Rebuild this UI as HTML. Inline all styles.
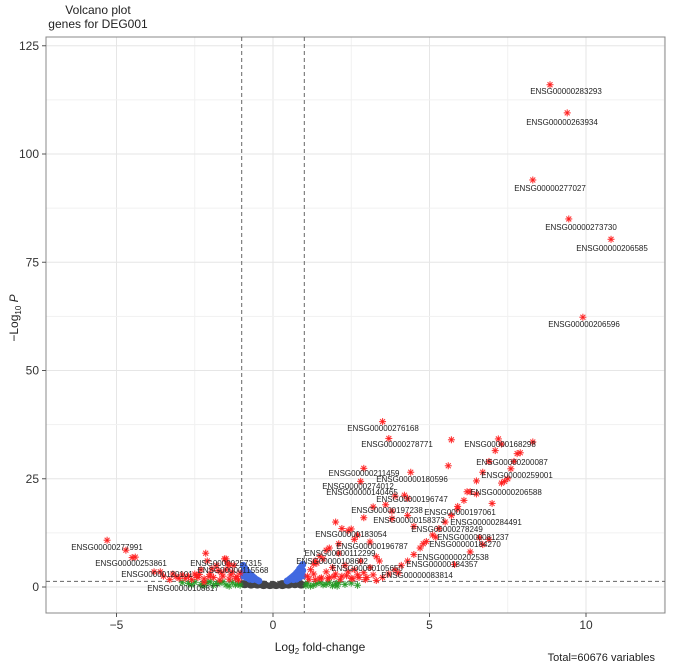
<!DOCTYPE html>
<html><head><meta charset="utf-8"><style>
body{margin:0;background:#fff;font-family:"Liberation Sans",sans-serif}
svg text{font-family:"Liberation Sans",sans-serif}
</style></head><body>
<svg id="chart" width="677" height="666"></svg>
<script>
// ---- data ----
const xTicks=[-5,0,5,10];
const yTicks=[0,25,50,75,100,125];
const labeledGenes=["ENSG00000283293","ENSG00000263934","ENSG00000277027","ENSG00000273730","ENSG00000206585","ENSG00000206596","ENSG00000276168","ENSG00000278771","ENSG00000211459","ENSG00000180596","ENSG00000274012","ENSG00000140465","ENSG00000196747","ENSG00000197238","ENSG00000197061","ENSG00000158373","ENSG00000284491","ENSG00000278249","ENSG00000183054","ENSG00000081237","ENSG00000184270","ENSG00000196787","ENSG00000112299","ENSG00000202538","ENSG00000108602","ENSG00000184357","ENSG00000105650","ENSG00000083814","ENSG00000168298","ENSG00000200087","ENSG00000259001","ENSG00000206588","ENSG00000277991","ENSG00000253861","ENSG00000120101","ENSG00000257315","ENSG00000115568","ENSG00000108817"];
const labeledFC=[8.85,9.4,8.3,9.45,10.8,9.9,3.5,3.7,2.9,4.4,2.8,4.2,4.3,3.8,5.9,4.3,7,6.6,2.5,6.9,6.7,3.1,1.5,6.3,1.3,5.8,3.4,4.0,7.2,7.8,7.6,7.4,-5.3,-4.5,-3.6,-1.5,-1.4,-2.2];
const labeledP=[116,109.5,94,85,80.3,62.3,38.2,34.3,27.4,26.5,24.4,21.2,20.5,15.8,18.6,16.5,19.3,11.4,13.4,11,9.8,10.4,7.1,8.1,5.3,5.2,6,3.2,34.2,30.8,27.3,24.4,10.8,6.8,3.5,6.5,5,1.1];
const labelText=[[566,91],[562,122],[550,188],[581,227],[612,248],[584,324],[383,428],[397,444],[364,473],[412,479],[358,486],[362,492],[412,499],[387,510],[460,512],[409,520],[486,522],[447,529],[351,534],[473,537],[465,544],[372,546],[340,553],[453,557],[332,561],[442,564],[367,568],[417,575],[500,444],[512,462],[517,475],[506,492],[107,547],[131,563],[157,574],[226,563],[233,570],[183,588]];
const redFC=[-1.2,-1.3,-1.5,-1.6,-1.8,-2,-2.1,-2.3,-2.5,-2.7,-3,-3.2,-3.5,-1.4,-1.7,-1.9,-2.2,-2.4,-1.1,-1.25,-1.55,-2.15,-2.6,-2.9,-3.8,-4.7,-4.4,-1.35,-1.65,-1.95,-2.45,-1.05,-1.15,-1.75,-2.05,-2.35,-2.8,-3.1,-3.3,-1.45,
1.1,1.2,1.3,1.4,1.5,1.6,1.7,1.8,1.9,2,2.1,2.2,2.3,2.4,2.5,2.6,2.7,2.8,2.9,3,3.1,3.2,1.15,1.35,1.55,1.75,1.95,2.15,2.35,2.55,2.75,2.95,3.3,3.5,3.7,3.9,4.1,4.3,4.5,4.7,4.9,5.1,5.3,5.5,5.7,5.9,6.1,6.3,6.5,6.7,6.9,7.1,7.3,1.8,2.2,2.6,3.3,2.1,1.7,1.35,2.9,3.2,3.6,4.8,5.2,2.4,5.6,5.7,3.8,6.5,8.3,7.3,7.5,7.7,7.9,6.2,4.5,3.9,2.0,2.7],
redP=[2,3.5,4,2.5,5,3,6,4,3,2.5,2,3,2.5,1.8,1.6,2.2,1.9,2.2,1.6,5,6.5,7.8,1.7,2.8,3.5,8.5,6.9,2.8,3.3,4.2,2.6,3.2,2.4,3.8,2.4,2.9,2,2.4,1.7,5.5,
2.5,4,3,5.5,2,6.5,3.5,2.2,4.5,3,7.8,2.5,5,3.5,2,4,2.8,6,3.3,2.2,4.5,2.8,1.8,1.7,2.1,1.9,2.4,1.8,2.6,1.9,2.2,1.7,1.5,2.2,3,4,5,6,7.5,9,10.5,12,13.5,15,16.5,18,20,22,24.5,26.5,29,31.5,33,9,13.5,11,7,10,8.5,6,16,18.5,19,10,11.5,13,28,34,17.5,21.5,33.5,24,25,29,31,22,14,21,15,12];
const greenFC=[-2.7,-2.5,-2.3,-2.1,-1.9,-1.7,-1.5,-1.3,-1.1,-2.6,-2.2,-1.8,-1.4,-1.2,1.1,1.3,1.5,1.7,1.9,2.1,1.2,1.4,1.6,1.8,2.0,1.05,-1.05,-1.6,-2.0,2.05,2.3,2.5,2.7,-2.9],
greenP=[0.8,1.1,0.6,1.0,0.4,0.9,0.5,1.1,0.7,0.5,0.3,0.8,0.2,0.5,0.9,0.4,1.1,0.6,0.3,1.0,0.2,0.8,0.5,1.1,0.7,0.3,0.4,1.2,1.2,0.2,0.6,0.9,0.4,1.0];
const blueFC=[-0.95,-0.9,-0.85,-0.8,-0.75,-0.7,-0.65,-0.6,-0.55,-0.5,-0.45,0.45,0.5,0.55,0.6,0.65,0.7,0.75,0.8,0.85,0.9,0.95,-0.95,-0.85,-0.75,0.75,0.85,0.95,-0.9,0.9,-0.95,-0.65,0.65,0.95,-0.8,0.8],
blueP=[5,4.4,3.8,3.4,3,2.8,2.4,2.1,1.8,1.6,1.4,1.4,1.6,1.9,2.2,2.5,2.8,3.2,3.6,4.2,4.6,5.2,2.5,2.2,1.8,1.8,2.2,2.6,3.6,3.6,3.5,1.7,1.7,3.8,2.6,2.6];
const greyFC=[-0.95,-0.85,-0.75,-0.65,-0.55,-0.45,-0.35,-0.25,-0.15,-0.05,0.05,0.15,0.25,0.35,0.45,0.55,0.65,0.75,0.85,0.95,-0.9,-0.7,-0.5,-0.3,-0.1,0.1,0.3,0.5,0.7,0.9,-0.8,-0.6,-0.4,-0.2,0,0.2,0.4,0.6,0.8,-0.3,0,0.3],
greyP=[1.0,0.8,0.6,1.1,0.5,0.9,0.3,0.7,0.4,0.2,0.6,0.3,0.8,0.5,1.0,0.4,0.9,0.6,1.1,0.7,0.3,0.2,0.2,0.1,0.1,0.1,0.1,0.2,0.3,0.2,0.5,0.4,0.6,0.5,0.3,0.4,0.3,0.7,0.5,0.9,0.8,1.0];
// ---- render ----
const NS="http://www.w3.org/2000/svg",svg=document.getElementById('chart');
const L=46,R=665,T=37,B=613;
const sx=v=>273+v*31.3, sy=v=>587-v*4.33;
function mk(tag,attrs,parent){const e=document.createElementNS(NS,tag);for(const k in attrs)e.setAttribute(k,attrs[k]);(parent||svg).appendChild(e);return e;}
const grid=mk('g',{});


for(let v=-7.5;v<=12.5;v+=2.5){const x=sx(v);if(x>L&&x<R)mk('line',{x1:x,x2:x,y1:T,y2:B,stroke:xTicks.includes(v)?'#e6e6e6':'#f1f1f1','stroke-width':1},grid);}
for(let v=0;v<=125;v+=12.5){const y=sy(v);mk('line',{x1:L,x2:R,y1:y,y2:y,stroke:yTicks.includes(v)?'#e6e6e6':'#f1f1f1','stroke-width':1},grid);}
const frame=mk('rect',{x:L,y:T,width:R-L,height:B-T,fill:'none',stroke:'#888','stroke-width':1});


[-1,1].forEach(v=>{const l=mk('line',{x1:sx(v),x2:sx(v),y1:T,y2:B,stroke:'#666','stroke-dasharray':'4,3'});

});
const hl=mk('line',{x1:L,x2:R,y1:sy(1.3),y2:sy(1.3),stroke:'#666','stroke-dasharray':'4,3'});


function star(x,y,c,r,g){for(let a=0;a<4;a++){const t=a*Math.PI/4;mk('line',{x1:x-r*Math.cos(t),y1:y-r*Math.sin(t),x2:x+r*Math.cos(t),y2:y+r*Math.sin(t),stroke:c,'stroke-width':1.1,'stroke-opacity':0.85},g);}}
const gG=mk('g',{});
greyFC.forEach((v,i)=>{mk('ellipse',{cx:sx(v),cy:sy(greyP[i]),rx:4,ry:2.5,fill:'#444'},gG);});
const bG=mk('g',{});
blueFC.forEach((v,i)=>{mk('circle',{cx:sx(v),cy:sy(blueP[i]),r:3.5,fill:'#4169e1'},bG);});
const grG=mk('g',{});
greenFC.forEach((v,i)=>star(sx(v),sy(greenP[i]),'#229922',3.5,grG));
const rG=mk('g',{});
redFC.forEach((v,i)=>star(sx(v),sy(redP[i]),'#ff1a1a',3.5,rG));
const lG=mk('g',{});
labeledFC.forEach((v,i)=>{star(sx(v),sy(labeledP[i]),'#ff1a1a',3.5,lG);
const t=mk('text',{x:labelText[i][0],y:labelText[i][1]+3,'font-size':8,'text-anchor':'middle',fill:'#222'},lG);t.textContent=labeledGenes[i];

});
xTicks.forEach(v=>{mk('line',{x1:sx(v),x2:sx(v),y1:B,y2:B+4,stroke:'#555'});
const t=mk('text',{x:sx(v),y:B+16,'font-size':12,'text-anchor':'middle',fill:'#333'});t.textContent=v<0?'\u2212'+(-v):v;

});
yTicks.forEach(v=>{mk('line',{x1:L-4,x2:L,y1:sy(v),y2:sy(v),stroke:'#555'});
const t=mk('text',{x:L-7,y:sy(v)+4,'font-size':12,'text-anchor':'end',fill:'#333'});t.textContent=v;

});
</script>
<svg width="677" height="666" style="position:absolute;left:0;top:0;pointer-events:none">
<text x="98" y="14" font-size="12" text-anchor="middle" fill="#222">Volcano plot</text>
<text x="98" y="28" font-size="12" text-anchor="middle" fill="#222">genes for DEG001</text>
<text x="320" y="651" font-size="12" text-anchor="middle" fill="#222">Log<tspan font-size="8" dy="3">2</tspan><tspan dy="-3"> fold-change</tspan></text>
<text transform="translate(18,318) rotate(-90)" font-size="12" text-anchor="middle" fill="#222">−Log<tspan font-size="8" dy="3">10</tspan><tspan dy="-3" font-style="italic"> P</tspan></text>
<text x="655" y="661" font-size="11" text-anchor="end" fill="#222">Total=60676 variables</text>
</svg>
</body></html>
